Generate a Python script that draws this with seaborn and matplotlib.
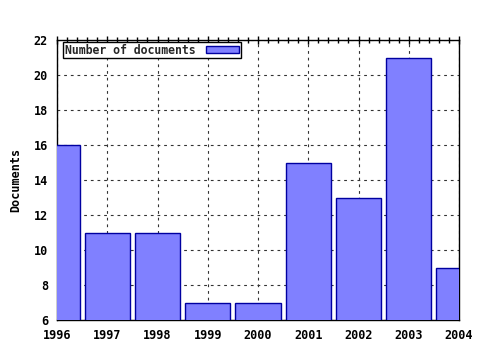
import matplotlib
matplotlib.use("Agg")
import matplotlib.pyplot as plt
import seaborn as sns
import pandas as pd
from matplotlib.ticker import MultipleLocator, AutoMinorLocator, FuncFormatter

years = [1996, 1997, 1998, 1999, 2000, 2001, 2002, 2003, 2004]
documents = [16, 11, 11, 7, 7, 15, 13, 21, 9]
series_label = "Number of documents"
y_label = "Documents"

sns.set_theme(style="white")
plt.rcParams['font.family'] = ['DejaVu Sans Mono']
plt.rcParams['font.weight'] = 'bold'

df = pd.DataFrame({"year": years, "docs": documents})

fig = plt.figure(figsize=(4.8, 3.5), dpi=100)
ax = fig.add_axes([57/480, 30/350, 402/480, 280/350])
sns.barplot(data=df, x="year", y="docs", native_scale=True, width=0.9,
            color="#8080ff", saturation=1, edgecolor="#0000a0", linewidth=1,
            label=series_label, ax=ax, zorder=3)
ax.set_xlim(1996, 2004)
ax.set_ylim(6, 22)
ax.xaxis.set_major_locator(MultipleLocator(1))
ax.yaxis.set_major_locator(MultipleLocator(2))
ax.xaxis.set_minor_locator(AutoMinorLocator(5))
ax.yaxis.set_minor_locator(AutoMinorLocator(1))
ax.xaxis.set_major_formatter(FuncFormatter(lambda v, p: f"{int(v)}"))
ax.grid(True, which="major", color="#333333", linestyle=(0, (2.5, 3.5)), linewidth=0.8, zorder=0)
ax.set_axisbelow(True)
ax.tick_params(which="major", direction="inout", top=True, right=False,
               labelsize=8.5, colors="black", length=6, width=1)
ax.tick_params(which="minor", direction="inout", top=True, length=4, width=1, colors="black")
for lab in ax.get_xticklabels() + ax.get_yticklabels():
    lab.set_fontweight("bold")
for s in ax.spines.values():
    s.set_color("black")
    s.set_linewidth(1)
ax.set_xlabel("")
ax.set_ylabel(y_label, fontsize=8.5, fontweight="bold", color="black", labelpad=8)
leg = ax.legend(loc="upper left", bbox_to_anchor=(6/402, 1 - 2/280), borderaxespad=0,
                markerfirst=False, frameon=True, fancybox=False,
                prop={"size": 8.3, "weight": "bold"}, borderpad=0.15, handlelength=2.9,
                handleheight=0.55, handletextpad=0.9)
leg.get_frame().set_edgecolor("black")
leg.get_frame().set_linewidth(1)
leg.get_frame().set_alpha(1)
fig.savefig("out.png", dpi=100)
